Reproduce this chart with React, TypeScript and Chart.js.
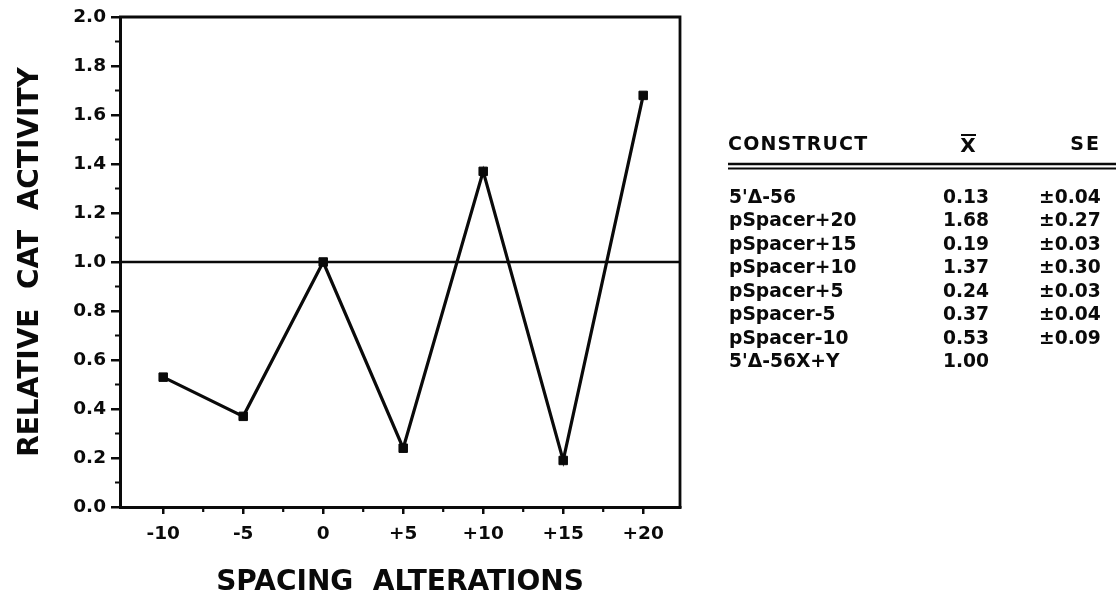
import React, { useEffect, useRef } from "react";
import { Chart, registerables } from "chart.js";

Chart.register(...registerables);

// ---- data ----
const spacingValues = [-10, -5, 0, 5, 10, 15, 20];
const relativeActivity = [0.53, 0.37, 1.0, 0.24, 1.37, 0.19, 1.68];
const referenceLevel = 1.0;

const xTickValues = [-10, -5, 0, 5, 10, 15, 20];
const xTickLabels = ["-10", "-5", "0", "+5", "+10", "+15", "+20"];
const xMinorTicks = [-7.5, -2.5, 2.5, 7.5, 12.5, 17.5];
const yTickValues = [0, 0.2, 0.4, 0.6, 0.8, 1.0, 1.2, 1.4, 1.6, 1.8, 2.0];
const yTickLabels = ["0.0", "0.2", "0.4", "0.6", "0.8", "1.0", "1.2", "1.4", "1.6", "1.8", "2.0"];
const yMinorTicks = [0.1, 0.3, 0.5, 0.7, 0.9, 1.1, 1.3, 1.5, 1.7, 1.9];

const tableHeaders = ["CONSTRUCT", "X", "SE"];
const constructNames = ["5'Δ-56", "pSpacer+20", "pSpacer+15", "pSpacer+10", "pSpacer+5", "pSpacer-5", "pSpacer-10", "5'Δ-56X+Y"];
const constructMeans = ["0.13", "1.68", "0.19", "1.37", "0.24", "0.37", "0.53", "1.00"];
const constructSE = ["±0.04", "±0.27", "±0.03", "±0.30", "±0.03", "±0.04", "±0.09", ""];

const xTitle = "SPACING  ALTERATIONS";
const yTitle = "RELATIVE  CAT  ACTIVITY";

const INK = "#0a0a0a";
const FONT = "'DejaVu Sans', sans-serif";

const extrasPlugin = {
  id: "extras",
  afterDatasetsDraw(chart: any) {
    const ctx = chart.ctx;
    const area = chart.chartArea;
    const xs = chart.scales.x;
    const ys = chart.scales.y;
    ctx.save();
    ctx.strokeStyle = INK;
    ctx.lineCap = "butt";

    // reference line
    const yRef = ys.getPixelForValue(referenceLevel);
    ctx.lineWidth = 2.5;
    ctx.beginPath();
    ctx.moveTo(area.left, yRef);
    ctx.lineTo(area.right, yRef);
    ctx.stroke();

    // top & right frame
    ctx.lineWidth = 2.8;
    ctx.beginPath();
    ctx.moveTo(area.left - 1, area.top);
    ctx.lineTo(area.right, area.top);
    ctx.lineTo(area.right, area.bottom + 1);
    ctx.stroke();

    // minor ticks
    ctx.lineWidth = 2.2;
    ctx.beginPath();
    for (const v of xMinorTicks) {
      const px = xs.getPixelForValue(v);
      ctx.moveTo(px, area.bottom);
      ctx.lineTo(px, area.bottom + 5);
    }
    for (const v of yMinorTicks) {
      const py = ys.getPixelForValue(v);
      ctx.moveTo(area.left, py);
      ctx.lineTo(area.left - 5, py);
    }
    ctx.stroke();
    ctx.restore();
  },
  afterDraw(chart: any) {
    const ctx = chart.ctx;
    ctx.save();
    ctx.fillStyle = INK;
    ctx.strokeStyle = INK;

    // headers
    const headerY = 145;
    ctx.textBaseline = "middle";
    ctx.font = `bold 19px ${FONT}`;
    (ctx as any).letterSpacing = "1.2px";
    ctx.textAlign = "left";
    ctx.fillText(tableHeaders[0], 728, headerY);
    (ctx as any).letterSpacing = "0px";
    ctx.textAlign = "center";
    ctx.font = `bold 20px ${FONT}`;
    ctx.fillText(tableHeaders[1], 968, headerY + 2);
    ctx.lineWidth = 2;
    ctx.beginPath();
    ctx.moveTo(961, 135);
    ctx.lineTo(976, 135);
    ctx.stroke();
    ctx.font = `bold 19px ${FONT}`;
    (ctx as any).letterSpacing = "2px";
    ctx.textAlign = "right";
    ctx.fillText(tableHeaders[2], 1101, headerY);
    (ctx as any).letterSpacing = "0px";

    // double rule
    ctx.lineWidth = 2.5;
    ctx.beginPath();
    ctx.moveTo(728, 164);
    ctx.lineTo(1116, 164);
    ctx.stroke();
    ctx.lineWidth = 1.8;
    ctx.beginPath();
    ctx.moveTo(728, 168.5);
    ctx.lineTo(1116, 168.5);
    ctx.stroke();

    // rows
    ctx.font = `bold 18.7px ${FONT}`;
    constructNames.forEach((name, i) => {
      const y = 198 + i * 23.45;
      ctx.textAlign = "left";
      ctx.fillText(name, 729, y);
      ctx.textAlign = "center";
      ctx.fillText(constructMeans[i], 966, y);
      if (constructSE[i]) {
        ctx.textAlign = "left";
        ctx.fillText(constructSE[i], 1039, y);
      }
    });
    ctx.restore();
  },
};

export default function App() {
  const ref = useRef<HTMLCanvasElement>(null);
  useEffect(() => {
    if (!ref.current) return;
    const chart = new Chart(ref.current, {
      type: "line",
      data: {
        datasets: [
          {
            data: spacingValues.map((x, i) => ({ x, y: relativeActivity[i] })),
            borderColor: INK,
            backgroundColor: INK,
            borderWidth: 3.2,
            pointStyle: "rect",
            pointRadius: 6,
            pointBorderWidth: 1,
            pointBackgroundColor: INK,
            pointBorderColor: INK,
            tension: 0,
            fill: false,
          },
        ],
      },
      options: {
        animation: false,
        responsive: true,
        maintainAspectRatio: false,
        layout: { padding: { left: 0, top: 17, right: 436, bottom: 0 } },
        plugins: { legend: { display: false }, tooltip: { enabled: false } },
        scales: {
          x: {
            type: "linear",
            min: -12.7,
            max: 22.3,
            afterFit(scale: any) {
              scale.height = 93;
              scale.paddingLeft = 0;
              scale.paddingRight = 0;
            },
            afterBuildTicks(scale: any) {
              scale.ticks = xTickValues.map((v) => ({ value: v }));
            },
            ticks: {
              color: INK,
              font: { family: FONT, size: 18.5, weight: "bold" },
              padding: 9,
              maxRotation: 0,
              autoSkip: false,
              callback: (v: any) => {
                const i = xTickValues.indexOf(Number(v));
                return i >= 0 ? xTickLabels[i] : "";
              },
            },
            grid: {
              drawOnChartArea: false,
              drawTicks: true,
              tickLength: 7,
              color: INK,
              lineWidth: 2.5,
            },
            border: { display: true, color: INK, width: 3 },
            title: {
              display: true,
              text: xTitle,
              color: INK,
              font: { family: FONT, size: 28, weight: "bold" },
              padding: { top: 0, bottom: 0 },
            },
          },
          y: {
            type: "linear",
            min: 0,
            max: 2,
            afterFit(scale: any) {
              scale.width = 120;
              scale.paddingTop = 0;
              scale.paddingBottom = 0;
            },
            afterBuildTicks(scale: any) {
              scale.ticks = yTickValues.map((v) => ({ value: v }));
            },
            ticks: {
              color: INK,
              font: { family: FONT, size: 18.5, weight: "bold" },
              padding: 5,
              callback: (v: any) => {
                const i = yTickValues.findIndex((t) => Math.abs(t - Number(v)) < 1e-6);
                return i >= 0 ? yTickLabels[i] : "";
              },
            },
            grid: {
              drawOnChartArea: false,
              drawTicks: true,
              tickLength: 9,
              color: INK,
              lineWidth: 2.5,
            },
            border: { display: true, color: INK, width: 3 },
            title: {
              display: true,
              text: yTitle,
              color: INK,
              font: { family: FONT, size: 28, weight: "bold" },
              padding: { top: 14, bottom: 0 },
            },
          },
        },
      },
      plugins: [extrasPlugin],
    });
    return () => chart.destroy();
  }, []);

  return (
    <div style={{ position: "absolute", left: 0, top: 0, width: 1116, height: 600, background: "#fff" }}>
      <canvas ref={ref} />
    </div>
  );
}
